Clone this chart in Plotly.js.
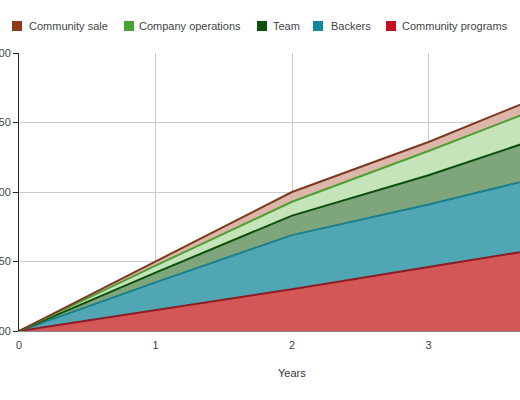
<!DOCTYPE html>
<html>
<head>
<meta charset="utf-8">
<script src="https://cdn.plot.ly/plotly-3.0.1.min.js"></script>
<style>
  html, body { margin: 0; padding: 0; background: #fff; overflow: hidden; }
  #chart { width: 520px; height: 400px; }
</style>
</head>
<body>
<div id="chart"></div>
<script>
// years on the x axis
var years = [0, 1, 2, 3, 4];

// stacked bands, bottom to top
var communityPrograms = [0, 0.15, 0.30, 0.46, 0.62];
var backers           = [0, 0.20, 0.39, 0.45, 0.53];
var team              = [0, 0.07, 0.14, 0.21, 0.30];
var companyOps        = [0, 0.05, 0.10, 0.175, 0.225];
var communitySale     = [0, 0.03, 0.07, 0.065, 0.085];

var seriesNames = ['Community programs', 'Backers', 'Team', 'Company operations', 'Community sale'];
var seriesVals = [communityPrograms, backers, team, companyOps, communitySale];

var lineColors = ['#8e1c24', '#1a7f8e', '#0b4f0b', '#4f9f37', '#7b3a1e'];
var fillColors = ['#d45757', '#50a7b3', '#7fa57d', '#c5e4ba', '#ddb6aa'];
var swatchColors = ['#c4101d', '#14889a', '#0c500c', '#46a233', '#8e3b17'];

var W = 520, H = 400;
var M = {l: 19, r: 0, t: 53, b: 69};

function px2x(px) { return (px - M.l) / (W - M.l - M.r); }
function px2y(py) { return (H - M.b - py) / (H - M.t - M.b); }

var data = [];
for (var i = 0; i < seriesNames.length; i++) {
  data.push({
    x: years,
    y: seriesVals[i],
    name: seriesNames[i],
    type: 'scatter',
    mode: 'lines',
    stackgroup: 'one',
    line: {color: lineColors[i], width: 2},
    fillcolor: fillColors[i],
    hoverinfo: 'x+y+name'
  });
}

// legend drawn as swatches + labels, order as in the reference (top band first)
var legendOrder = [4, 3, 2, 1, 0];
var swatchLeft = [12, 124, 257, 313, 386];
var textLeft = [29, 139, 273, 331, 402];
var shapes = [];
var annotations = [];
legendOrder.forEach(function (s, k) {
  shapes.push({
    type: 'rect', xref: 'paper', yref: 'paper',
    x0: px2x(swatchLeft[k]), x1: px2x(swatchLeft[k] + 10),
    y0: px2y(31), y1: px2y(21),
    fillcolor: swatchColors[s], line: {width: 0}
  });
  annotations.push({
    xref: 'paper', yref: 'paper',
    x: px2x(textLeft[k] - 2), y: px2y(26),
    xanchor: 'left', yanchor: 'middle',
    text: seriesNames[s], showarrow: false,
    font: {size: 11, color: '#444'}
  });
});

// x axis title, centred under the full (cropped) axis
annotations.push({
  xref: 'x', yref: 'paper', x: 2, y: px2y(373),
  xanchor: 'center', yanchor: 'middle',
  text: 'Years', showarrow: false,
  font: {size: 11, color: '#333'}
});

var layout = {
  width: W,
  height: H,
  margin: M,
  showlegend: false,
  paper_bgcolor: '#fff',
  plot_bgcolor: '#fff',
  font: {family: 'Liberation Sans, Arial, sans-serif', size: 11, color: '#444'},
  xaxis: {
    range: [0, 3.67],
    dtick: 1,
    showgrid: true,
    gridcolor: '#cccccc',
    zeroline: false,
    showline: true,
    linecolor: '#888',
    ticks: '',
    ticklabelstandoff: 4,
    tickfont: {size: 11, color: '#444'}
  },
  yaxis: {
    range: [0, 2],
    dtick: 0.5,
    tickformat: '.2f',
    showgrid: true,
    gridcolor: '#cccccc',
    zeroline: false,
    showline: true,
    linecolor: '#222',
    ticks: 'outside',
    ticklen: 5,
    tickcolor: '#222',
    tickfont: {size: 11, color: '#444'}
  },
  shapes: shapes,
  annotations: annotations
};

Plotly.newPlot('chart', data, layout, {displayModeBar: false, staticPlot: true});
</script>
</body>
</html>
